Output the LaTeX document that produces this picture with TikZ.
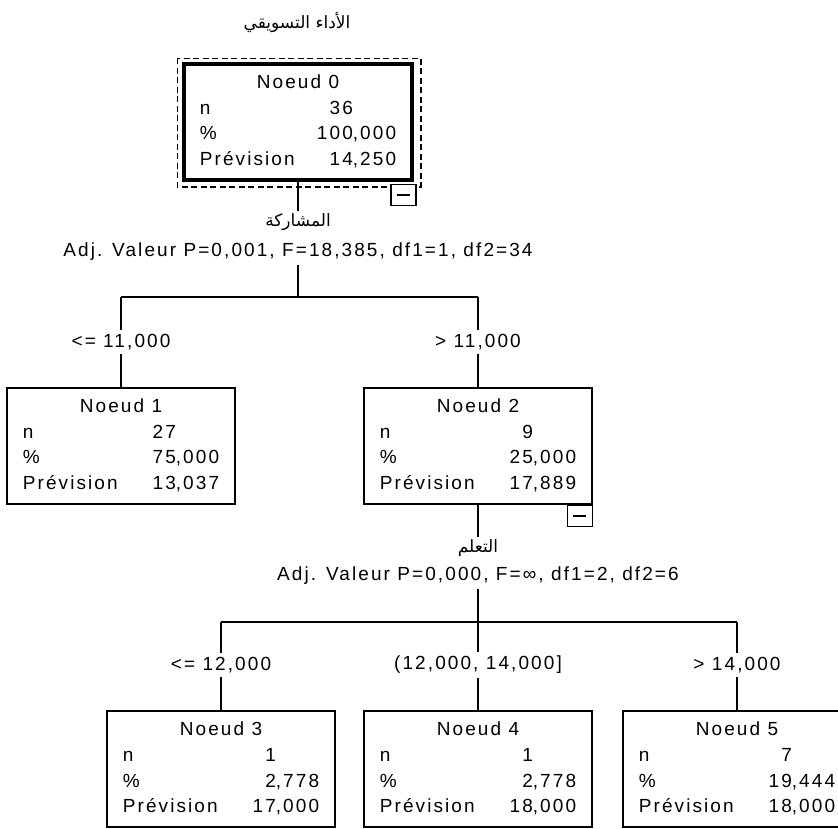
\documentclass[tikz,border=0pt]{standalone}
\usepackage{fontspec}
\newfontfamily\spssfont[LetterSpace=11]{Liberation Sans}
\newfontfamily\arabicfont[Script=Arabic]{DejaVu Sans}
\TeXXeTstate=1

% rows of one tree node: number, n, then integer and decimal parts
\newcommand{\noeudtab}[6]{%
  \begin{tabular}{@{}p{110pt}@{}r@{}l@{}}
    \multicolumn{3}{c}{Noeud #1}\\
    n & \makebox[43pt][r]{#2} & \\
    \% & \makebox[43pt][r]{#3} & #4\\
    Prévision & \makebox[43pt][r]{#5} & #6
  \end{tabular}}

\begin{document}
\begin{tikzpicture}[x=1pt, y=-1pt, line width=1.6pt,
    font={\spssfont\fontsize{19}{25.7}\selectfont},
    box/.style={draw, rectangle, minimum width=228pt, minimum height=116pt, inner sep=0pt},
    minusbox/.style={draw, fill=white, minimum width=25pt, minimum height=21pt, inner sep=0pt, anchor=north east, line width=1.3pt},
    arlabel/.style={font={\arabicfont\fontsize{17}{20}\selectfont}, inner sep=2pt},
    cutlabel/.style={inner sep=3pt}]
    \useasboundingbox (0,0) rectangle (838,828);
    \clip (0,0) rectangle (838,828);

    % Root node with its dashed selection frame
    \node[arlabel] (ttl) at (297,22) {\beginR الأداء التسويقي\endR};
    \node[box, line width=3.5pt] (n0) at (298,122) {\noeudtab{0}{36}{100}{,000}{14}{,250}};
    \draw[line width=1.5pt, dash pattern=on 6pt off 3.5pt] ([shift={(-5,-4)}]n0.north west) rectangle ([shift={(7,5)}]n0.south east);
    \node[minusbox] (m0) at ([shift={(3,2)}]n0.south east) {\rule{13pt}{1.6pt}};

    % First split
    \node[arlabel] (v0) at (298,222) {\beginR المشاركة\endR};
    \node[cutlabel] (t0) at (298,252) {Adj. Valeur P=0,001, F=18,385, df1=1, df2=34};
    \coordinate (j0) at (298,297);
    \coordinate (j1) at (121,297);
    \coordinate (j2) at (478,297);
    \draw (n0) -- (v0);
    \draw (t0) -- (j0);
    \draw (j1) -- (j2);

    \node[cutlabel] (e1) at (121,342) {<= 11,000};
    \node[cutlabel] (e2) at (478,342) {> 11,000};
    \node[box] (n1) at (121,446) {\noeudtab{1}{27}{75}{,000}{13}{,037}};
    \node[box] (n2) at (478,446) {\noeudtab{2}{9}{25}{,000}{17}{,889}};
    \node[minusbox] (m2) at (n2.south east) {\rule{13pt}{1.6pt}};
    \draw (j1) -- (e1) -- (n1);
    \draw (j2) -- (e2) -- (n2);

    % Second split
    \node[arlabel] (v2) at (478,548) {\beginR التعلم\endR};
    \node[cutlabel] (t2) at (478,576) {Adj. Valeur P=0,000, F=∞, df1=2, df2=6};
    \coordinate (j3) at (478,622);
    \coordinate (j4) at (221,622);
    \coordinate (j5) at (737,622);
    \draw (n2) -- (v2);
    \draw (t2) -- (j3);
    \draw (j4) -- (j5);

    \node[cutlabel] (e3) at (221,665) {<= 12,000};
    \node[cutlabel] (e4) at (478,665) {(12,000, 14,000]};
    \node[cutlabel] (e5) at (737,665) {> 14,000};
    \node[box] (n3) at (221,769) {\noeudtab{3}{1}{2}{,778}{17}{,000}};
    \node[box] (n4) at (478,769) {\noeudtab{4}{1}{2}{,778}{18}{,000}};
    \node[box] (n5) at (737,769) {\noeudtab{5}{7}{19}{,444}{18}{,000}};
    \draw (j4) -- (e3) -- (n3);
    \draw (j3) -- (e4) -- (n4);
    \draw (j5) -- (e5) -- (n5);
\end{tikzpicture}
\end{document}
